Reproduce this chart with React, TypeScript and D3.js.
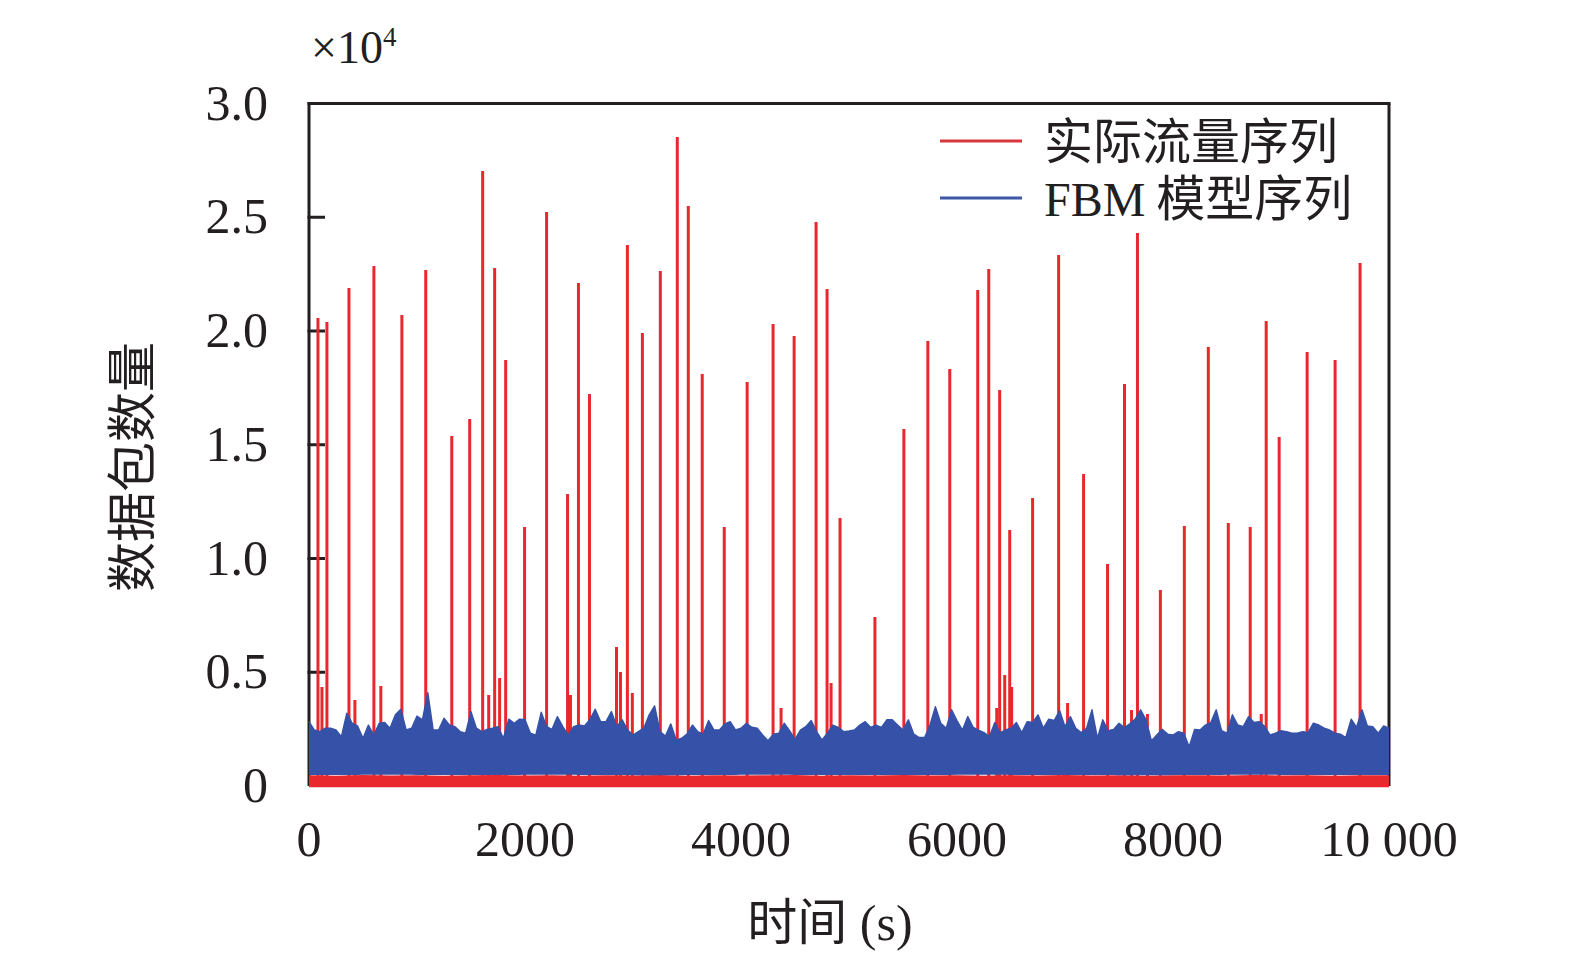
import * as d3 from 'd3';

// red spikes of the measured traffic: time (s) and packet count
const spikeTimes = [
  83, 120, 166, 370, 425, 601, 665, 860, 1081, 1322, 1488, 1608, 1664, 1719, 1765, 1821,
  1996, 2200, 2394, 2421, 2495, 2597, 2847, 2884, 2948, 2994, 3087, 3253, 3410, 3512,
  3641, 3845, 4057, 4297, 4371, 4492, 4695, 4797, 4834, 4917, 5240, 5508, 5730, 5933,
  6192, 6294, 6368, 6395, 6442, 6488, 6506, 6700, 6941, 7024, 7172, 7394, 7551, 7616,
  7671, 7763, 7883, 8105, 8327, 8512, 8715, 8817, 8863, 8983, 9242, 9501, 9732,
];
const spikeValues = [
  20573, 4352, 20397, 21892, 3780, 22859, 4396, 20705, 22683, 15386, 16133, 27035, 4000,
  22771, 4748, 18727, 11386, 25233, 12836, 4000, 22112, 17232, 6110, 5011, 23782, 4088,
  19914, 22639, 28530, 25497, 18112, 11386, 17760, 20310, 3429, 19782, 24793, 21848, 4528,
  11781, 7429, 15694, 19562, 18331, 21804, 22727, 3429, 17408, 4880, 11254, 4352, 12660,
  23343, 3649, 13716, 9759, 17672, 3341, 24310, 3165, 8616, 11430, 19298, 11561, 11386,
  3165, 20441, 15342, 19079, 18727, 22991,
];
// red base level band, top edge every 250 s
const redBaseTop = [
  470, 455, 480, 460, 475, 450, 470, 485, 460, 470, 455, 475, 465, 480, 450, 470, 460,
  475, 485, 455, 470, 465, 480, 460, 470, 450, 475, 465, 480, 460, 470, 455, 475, 470,
  460, 480, 465, 470, 455, 475, 470,
];
const redBaseBottom = -60;

// FBM model series: upper envelope every 50 s, floor every 500 s
const blueUpper = [
  2830, 2460, 2390, 2540, 2540, 2460, 2170, 3200, 2760, 2640, 2100, 2680, 2240, 2760, 2790,
  2540, 3130, 3370, 2460, 2540, 3070, 2910, 4100, 2460, 2460, 2980, 2680, 2610, 2390, 2320,
  3270, 2540, 2390, 2490, 2540, 2610, 2100, 2940, 2760, 2940, 2910, 2320, 2240, 3240, 2610,
  2490, 3050, 2610, 2240, 2610, 2680,
  2640, 2910, 3370, 2830, 2830, 3270, 2610, 2910, 2460, 2240, 2390, 2540, 3130, 3520, 2390,
  2200, 2730, 2020, 2100, 2280, 2680, 2390, 2280, 2880, 2460, 2460, 2730, 2830, 2460, 2540,
  2760, 2580, 2540, 2240, 1990, 2280, 2320, 2760, 2430, 2050, 2460, 2610, 2880, 2390, 2020,
  2320, 2680, 2580, 2390, 2420,
  2460, 2680, 2830, 2580, 2680, 2580, 2910, 2910, 2680, 2460, 2910, 2280, 2130, 2130, 2680,
  3490, 2760, 2540, 3350, 2880, 2460, 3050, 2580, 2460, 2350, 2170, 2790, 2350, 2460, 2540,
  2790, 2350, 2830, 2790, 3130, 2540, 2940, 2880, 3320, 2610, 3050, 2540, 2350, 2540, 3350,
  2100, 2910, 2430, 2490, 2760,
  2570, 2730, 2940, 3350, 2910, 1990, 2240, 2490, 2280, 2240, 2390, 2320, 1730, 2490, 2460,
  2680, 2790, 3350, 2430, 2320, 3130, 2680, 2610, 3050, 2790, 2830, 2610, 2240, 2320, 2430,
  2390, 2320, 2320, 2390, 2350, 2760, 2680, 2540, 2460, 2320, 2280, 2130, 2940, 2580, 3350,
  2640, 2610, 2320, 2640, 2540,
];
const blueFloor = [480, 490, 480, 485, 490, 480, 475, 485, 490, 480, 485, 480, 490, 485, 480, 475, 485, 490, 480, 485, 480];

const xTicks = [0, 2000, 4000, 6000, 8000, 10000];
const xTickLabels = ['0', '2000', '4000', '6000', '8000', '10 000'];
const yTicks = [0, 5000, 10000, 15000, 20000, 25000, 30000];
const yTickLabels = ['0', '0.5', '1.0', '1.5', '2.0', '2.5', '3.0'];

const W = 1575;
const H = 965;
const margin = { top: 103.5, right: 186, bottom: 179, left: 309 };
const RED = '#e8282d';
const BLUE = '#3552a8';
const serif = '"Liberation Serif", "Times New Roman", serif';
const cjk = '"Noto Sans CJK SC", "Noto Sans", sans-serif';

export default function App() {
  const x = d3.scaleLinear().domain([0, 10000]).range([margin.left, W - margin.right]);
  const y = d3.scaleLinear().domain([0, 30000]).range([H - margin.bottom, margin.top]);

  const redBand = d3.area<number>()
    .x((_, i) => x(i * 250))
    .y0(y(redBaseBottom))
    .y1(d => y(d))(redBaseTop) || '';

  const blueArea = d3.area<number>()
    .x((_, i) => x(i * 50))
    .y0((_, i) => y(blueFloor[Math.floor(i / 10)]))
    .y1(d => y(d))(blueUpper) || '';

  const blueLine = d3.line<number>()
    .x((_, i) => x(i * 50))
    .y(d => y(d))(blueUpper) || '';

  const x0 = x(0);
  const x1 = x(10000);
  const yTop = y(30000);
  const yBot = y(0);

  return (
    <div style={{ position: 'absolute', left: 0, top: 0 }}>
      <svg width={W} height={H} style={{ display: 'block', background: '#fff' }}>
        {/* frame and left axis */}
        <g stroke="#231f20" strokeWidth={3} fill="none">
          <line x1={x0} x2={x0} y1={yTop - 1.5} y2={yBot} />
          <line x1={x0 - 1.5} x2={x1 + 1.5} y1={yTop} y2={yTop} />
          <line x1={x1} x2={x1} y1={yTop} y2={yBot} />
          {yTicks.slice(1, -1).map(t => (
            <line key={t} x1={x0 - 1.5} x2={x0 + 16} y1={y(t)} y2={y(t)} />
          ))}
        </g>

        {/* red measured series */}
        <path d={redBand} fill={RED} />
        <g stroke={RED} strokeWidth={3}>
          {spikeTimes.map((t, i) => (
            <line key={i} x1={x(t)} x2={x(t)} y1={y(400)} y2={y(spikeValues[i])} />
          ))}
        </g>

        {/* blue FBM series */}
        <path d={blueArea} fill={BLUE} />
        <path d={blueLine} fill="none" stroke={BLUE} strokeWidth={1.4} strokeLinejoin="round" />

        {/* y tick labels */}
        <g fontFamily={serif} fontSize={50} fill="#231f20" textAnchor="end">
          {yTicks.map((t, i) => (
            <text key={t} x={x0 - 41} y={y(t) + 16}>{yTickLabels[i]}</text>
          ))}
        </g>
        {/* x tick labels */}
        <g fontFamily={serif} fontSize={50} fill="#231f20" textAnchor="middle">
          {xTicks.map((t, i) => (
            <text key={t} x={x(t)} y={856}>{xTickLabels[i]}</text>
          ))}
        </g>

        {/* exponent */}
        <text x={311} y={63} fontFamily={serif} fontSize={46} fill="#231f20">
          ×10<tspan fontSize={27} dy={-17}>4</tspan>
        </text>

        {/* axis titles */}
        <text
          transform="translate(150,467) rotate(-90)"
          textAnchor="middle"
          fontFamily={cjk}
          fontSize={50}
          fill="#231f20"
        >
          数据包数量
        </text>
        <text x={830} y={940} textAnchor="middle" fontSize={50} fill="#231f20">
          <tspan fontFamily={cjk}>时间</tspan>
          <tspan fontFamily={serif}> (s)</tspan>
        </text>

        {/* legend */}
        <line x1={940} x2={1022} y1={141} y2={141} stroke="#d7363c" strokeWidth={3} />
        <text x={1044} y={159} fontFamily={cjk} fontSize={49} fill="#231f20">实际流量序列</text>
        <line x1={940} x2={1022} y1={198} y2={198} stroke="#3d58a6" strokeWidth={3} />
        <text x={1044} y={216} fontSize={49} fill="#231f20">
          <tspan fontFamily={serif} fontSize={48}>FBM</tspan>
          <tspan fontFamily={cjk}> 模型序列</tspan>
        </text>
      </svg>
    </div>
  );
}
